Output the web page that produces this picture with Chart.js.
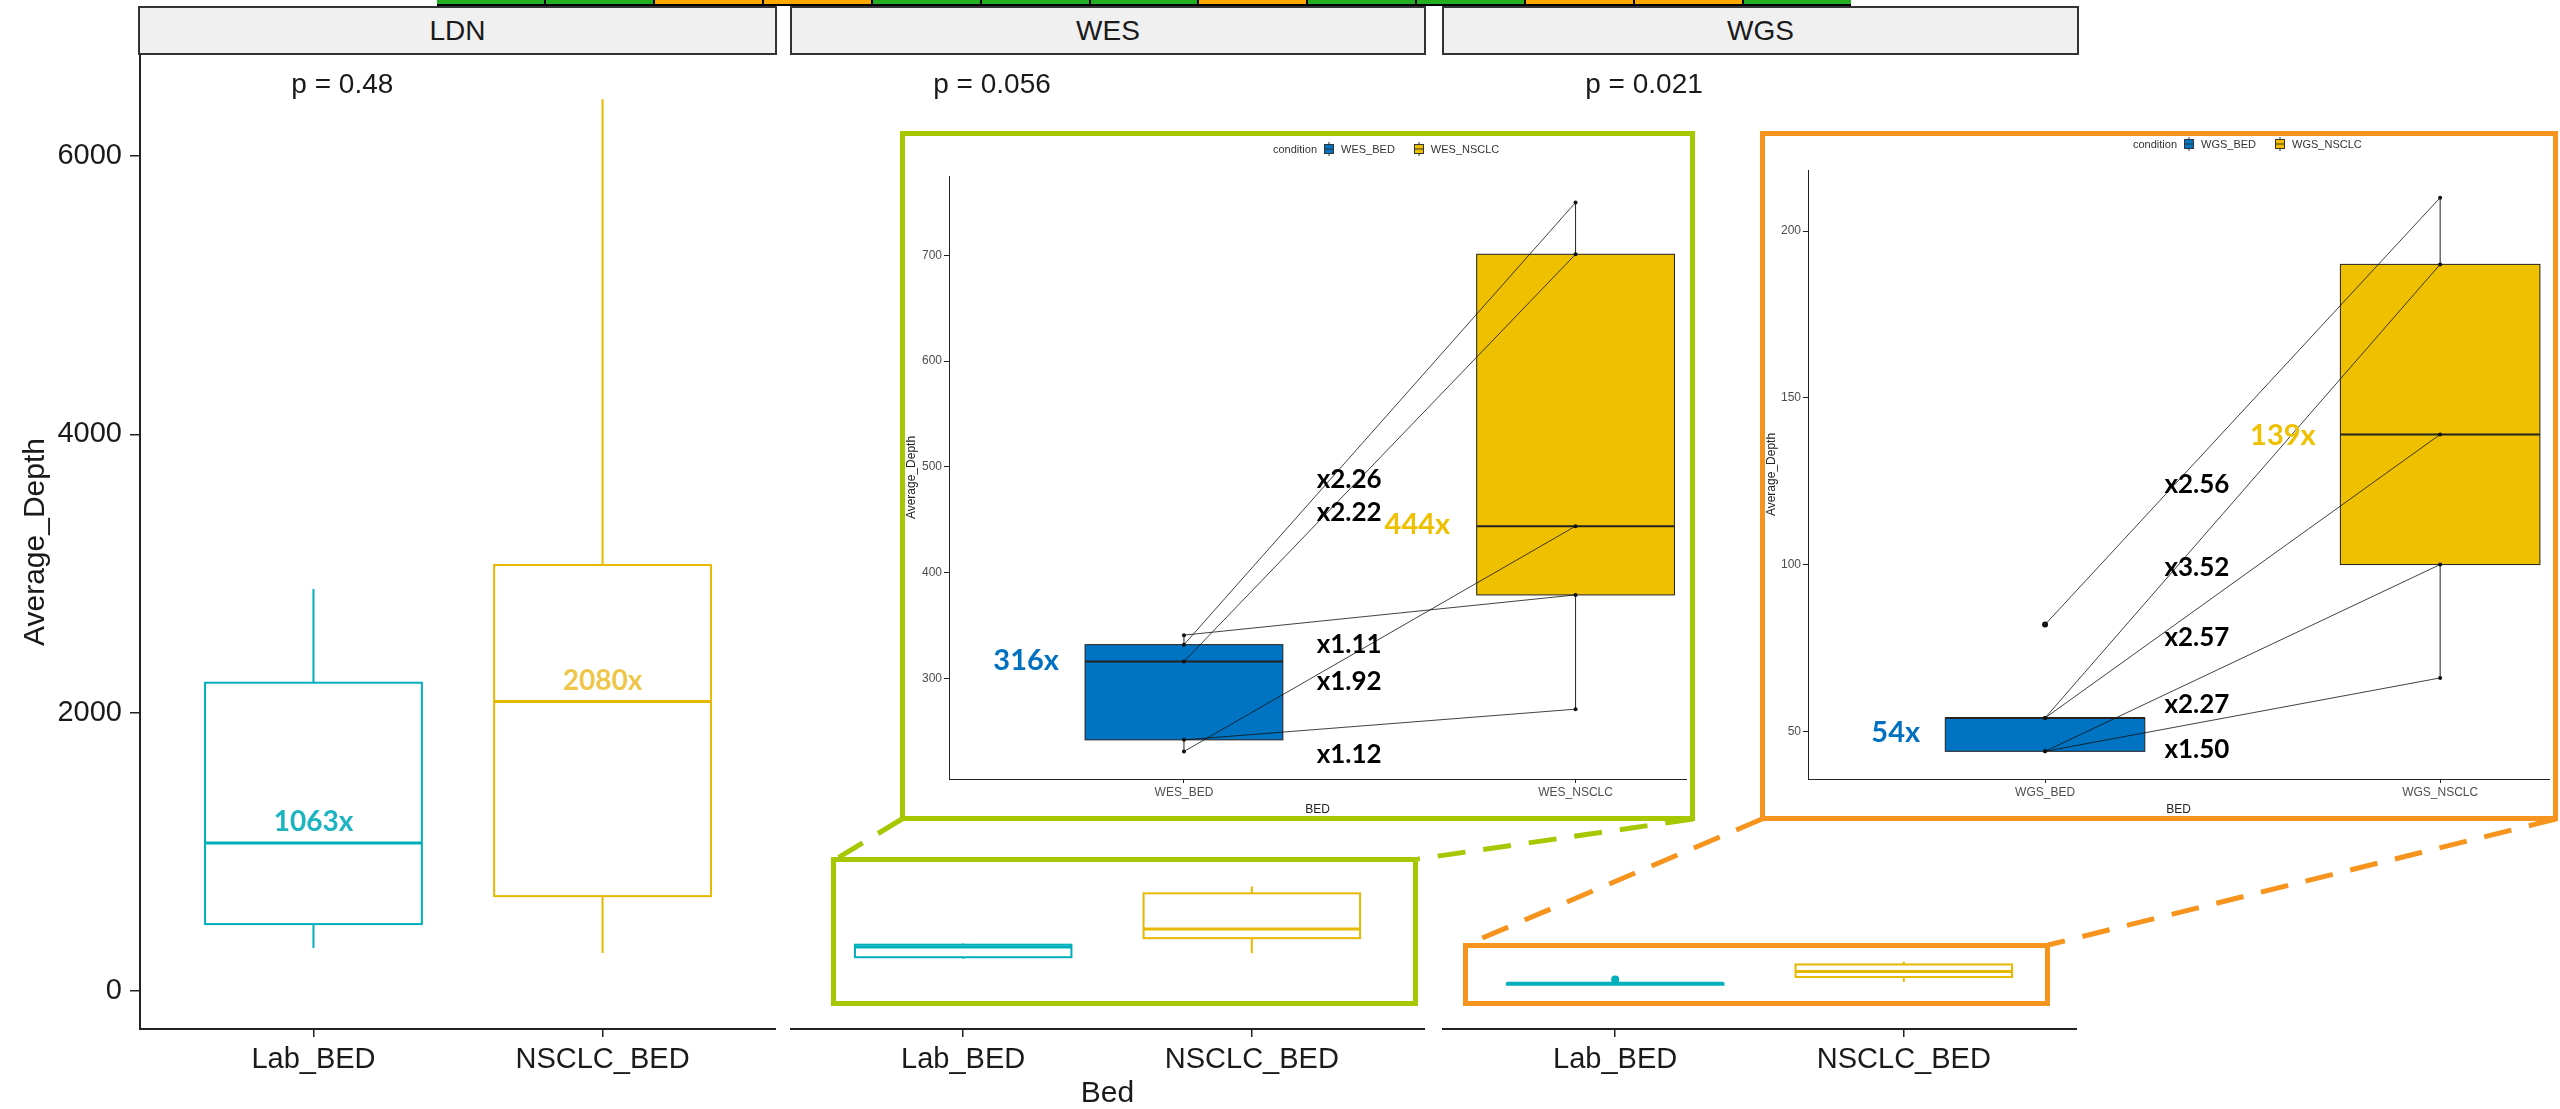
<!DOCTYPE html>
<html>
<head>
<meta charset="utf-8">
<script src="https://cdn.jsdelivr.net/npm/chart.js@4.4.1/dist/chart.umd.min.js"></script>
<style>
  body { margin: 0; background: #fff; }
  #fig { position: relative; width: 2560px; height: 1109px; overflow: hidden; background: #fff; font-family: 'Liberation Sans', Arial, sans-serif; }
  #fig canvas { position: absolute; }
  .strip { position: absolute; top: 6px; height: 49px; box-sizing: border-box; border: 2px solid #333; background: #f0f0f0;
           text-align: center; line-height: 45px; font-size: 28px; color: #1a1a1a; }
  .frame { position: absolute; box-sizing: border-box; border: 5px solid; background: transparent; }
  .frame.green { border-color: #a5c800; }
  .frame.orange { border-color: #f7941d; }
  .frame.inset { background: #fff; }
  .legend { position: absolute; display: flex; align-items: center; height: 14px; font-size: 11px; color: #333; }
  .legend svg { margin: 0 7px 0 7px; }
  #band { position: absolute; left: 437px; top: 0; height: 6px; width: 1414px; background: #000; display: flex; gap: 2px; }
  #band div { flex: 1; height: 4px; }
</style>
</head>
<body>
<div id="fig">
  <div id="band"></div>

  <div class="strip" style="left:138px;width:639px">LDN</div>
  <div class="strip" style="left:790px;width:636px">WES</div>
  <div class="strip" style="left:1442px;width:637px">WGS</div>

  <canvas id="ldn" width="776" height="1054" style="left:0;top:55px"></canvas>
  <canvas id="wes" width="635" height="1054" style="left:790px;top:55px"></canvas>
  <canvas id="wgs" width="635" height="1054" style="left:1442px;top:55px"></canvas>

  <div class="frame green" style="left:831px;top:857px;width:587px;height:149px"></div>
  <div class="frame orange" style="left:1463px;top:943px;width:587px;height:63px"></div>

  <svg width="2560" height="1109" style="position:absolute;left:0;top:0">
    <g stroke-width="5" stroke-dasharray="28 18" fill="none">
      <line x1="902" y1="819" x2="836" y2="859" stroke="#a5c800"/>
      <line x1="1693" y1="819" x2="1418" y2="859" stroke="#a5c800"/>
      <line x1="1762" y1="819" x2="1466" y2="945" stroke="#f7941d"/>
      <line x1="2556" y1="819" x2="2048" y2="945" stroke="#f7941d"/>
    </g>
  </svg>

  <div class="frame green inset" style="left:900px;top:131px;width:795px;height:690px"></div>
  <div class="frame orange inset" style="left:1760px;top:131px;width:798px;height:690px"></div>

  <canvas id="wesZoom" width="785" height="680" style="left:905px;top:136px"></canvas>
  <canvas id="wgsZoom" width="788" height="680" style="left:1765px;top:136px"></canvas>

  <div class="legend" id="wesLegend" style="left:1273px;top:142px"></div>
  <div class="legend" id="wgsLegend" style="left:2133px;top:137px"></div>
</div>

<script>
// ---- data ----
const facetNames = ['LDN', 'WES', 'WGS'];
const bedLabels = ['Lab_BED', 'NSCLC_BED'];
const pValues = ['0.48', '0.056', '0.021'];

// LDN: min, q1, median, q3, max
const ldnLab = [308, 480, 1063, 2215, 2889];
const ldnNsclc = [272, 681, 2080, 3061, 6409];

// paired samples (same sample on both BEDs)
const wesBed = [332, 316, 341, 231, 242];
const wesNsclc = [750, 701, 379, 444, 271];
const wgsBed = [82, 54, 54, 44, 44];
const wgsNsclc = [210, 190, 139, 100, 66];

const mainTicks = [0, 2000, 4000, 6000];
const wesTicks = [300, 400, 500, 600, 700];
const wgsTicks = [50, 100, 150, 200];
const zoomCats = {
  wes: ['WES_BED', 'WES_NSCLC'],
  wgs: ['WGS_BED', 'WGS_NSCLC']
};

// where the fold-change labels sit (y in data units, top to bottom)
const wesRatioY = [488, 457, 332, 297, 228];
const wgsRatioY = [124, 99, 78, 58, 44.5];

const bandColors = ['g', 'g', 'o', 'o', 'g', 'g', 'g', 'o', 'g', 'g', 'o', 'o', 'g'];

// ---- styling ----
const FONT = "'Liberation Sans', Arial, sans-serif";
const BOLD = "Lato, 'Open Sans', sans-serif";
const TEAL = '#00afbb', GOLD = '#e7b800';
const BLUE = '#0073c2', YELLOW = '#efc000';
const AXIS = '#222', TEXT = '#1a1a1a';

// ---- stats helpers ----
function quantile(sorted, p) {
  const h = (sorted.length - 1) * p;
  const lo = Math.floor(h);
  const hi = Math.min(lo + 1, sorted.length - 1);
  return sorted[lo] + (h - lo) * (sorted[hi] - sorted[lo]);
}

function boxStats(values) {
  const s = [...values].sort((a, b) => a - b);
  const q1 = quantile(s, 0.25), med = quantile(s, 0.5), q3 = quantile(s, 0.75);
  const iqr = q3 - q1;
  const inside = s.filter(v => v >= q1 - 1.5 * iqr && v <= q3 + 1.5 * iqr);
  return { min: inside[0], q1, med, q3, max: inside[inside.length - 1], out: s.filter(v => !inside.includes(v)) };
}

function fromSummary(a) {
  return { min: a[0], q1: a[1], med: a[2], q3: a[3], max: a[4], out: [] };
}

// keep chart area fixed: no room reserved for overhanging tick labels
function fixWidth(w) {
  return s => { s.width = w; s.paddingTop = 0; s.paddingBottom = 0; };
}
function fixHeight(h) {
  return s => { s.height = h; s.paddingLeft = 0; s.paddingRight = 0; };
}

// ---- plugins ----
function boxLayer(items, st) {
  return {
    id: 'boxLayer',
    beforeDatasetsDraw(chart) {
      const { ctx, scales: { x, y } } = chart;
      items.forEach(b => {
        const cx = x.getPixelForValue(b.x);
        const half = (x.getPixelForValue(b.x + st.width / 2) - x.getPixelForValue(b.x - st.width / 2)) / 2;
        const top = y.getPixelForValue(b.s.q3), bot = y.getPixelForValue(b.s.q1);
        ctx.save();
        ctx.strokeStyle = b.stroke;
        ctx.lineWidth = st.lineWidth;
        ctx.beginPath();
        ctx.moveTo(cx, y.getPixelForValue(b.s.max)); ctx.lineTo(cx, top);
        ctx.moveTo(cx, bot); ctx.lineTo(cx, y.getPixelForValue(b.s.min));
        ctx.stroke();
        if (b.fill) {
          ctx.fillStyle = b.fill;
          ctx.fillRect(cx - half, top, half * 2, bot - top);
        }
        ctx.strokeRect(cx - half, top, half * 2, bot - top);
        ctx.lineWidth = st.medianWidth;
        ctx.beginPath();
        const my = y.getPixelForValue(b.s.med);
        ctx.moveTo(cx - half, my); ctx.lineTo(cx + half, my);
        ctx.stroke();
        ctx.fillStyle = b.outColor || b.stroke;
        b.s.out.forEach(v => {
          ctx.beginPath();
          ctx.arc(cx, y.getPixelForValue(v), st.outRadius, 0, Math.PI * 2);
          ctx.fill();
        });
        ctx.restore();
      });
    }
  };
}

function noteLayer(notes) {
  return {
    id: 'noteLayer',
    afterDatasetsDraw(chart) {
      const { ctx, scales: { x, y } } = chart;
      notes.forEach(n => {
        ctx.save();
        ctx.font = n.font;
        ctx.fillStyle = n.color;
        ctx.textAlign = n.align || 'center';
        ctx.textBaseline = 'middle';
        ctx.fillText(n.text, x.getPixelForValue(n.x), y.getPixelForValue(n.y) + (n.dy || 0));
        ctx.restore();
      });
    }
  };
}

// ---- facet panels ----
function facetChart(id, showY, showTitle, boxes, notes) {
  return new Chart(document.getElementById(id), {
    type: 'scatter',
    data: { datasets: [] },
    options: {
      responsive: false,
      animation: false,
      devicePixelRatio: 1,
      layout: { padding: 0 },
      plugins: { legend: { display: false }, tooltip: { enabled: false } },
      scales: {
        x: {
          type: 'linear', min: 0.4, max: 2.6,
          afterBuildTicks: s => { s.ticks = [1, 2].map(v => ({ value: v })); },
          afterFit: fixHeight(80),
          ticks: { autoSkip: false, maxRotation: 0, padding: 6, color: TEXT,
                   font: { family: FONT, size: 29 }, callback: v => bedLabels[v - 1] },
          grid: { drawOnChartArea: false, tickLength: 8, color: AXIS, lineWidth: 1.5 },
          border: { color: AXIS, width: 2 },
          title: { display: showTitle, text: 'Bed', color: TEXT, padding: 0,
                   font: { family: FONT, size: 30, lineHeight: 1 } }
        },
        y: {
          display: showY,
          min: -274, max: 6727,
          afterBuildTicks: s => { s.ticks = mainTicks.map(v => ({ value: v })); },
          afterFit: fixWidth(showY ? 140 : 0),
          ticks: { autoSkip: false, padding: 8, color: TEXT, font: { family: FONT, size: 29 },
                   callback: v => String(v) },
          grid: { drawOnChartArea: false, tickLength: 10, color: AXIS, lineWidth: 1.5 },
          border: { color: AXIS, width: 2 },
          title: { display: true, text: 'Average_Depth', color: TEXT, padding: { top: 21, bottom: 0 },
                   font: { family: FONT, size: 30, lineHeight: 1 } }
        }
      }
    },
    plugins: [boxLayer(boxes, { width: 0.75, lineWidth: 2, medianWidth: 3, outRadius: 4 }), noteLayer(notes)]
  });
}

const pNote = i => ({ x: 1.1, y: 6512, text: 'p = ' + pValues[i], color: TEXT, font: '28px ' + FONT });

const ldnStats = [fromSummary(ldnLab), fromSummary(ldnNsclc)];
facetChart('ldn', true, false,
  [{ x: 1, s: ldnStats[0], stroke: TEAL }, { x: 2, s: ldnStats[1], stroke: GOLD }],
  [pNote(0),
   { x: 1, y: ldnStats[0].med, dy: -21, text: ldnStats[0].med + 'x', color: '#1bb4c0', font: 'bold 28px ' + BOLD },
   { x: 2, y: ldnStats[1].med, dy: -21, text: ldnStats[1].med + 'x', color: '#efc54a', font: 'bold 28px ' + BOLD }]);

const wesStats = [boxStats(wesBed), boxStats(wesNsclc)];
const wgsStats = [boxStats(wgsBed), boxStats(wgsNsclc)];

facetChart('wes', false, true,
  [{ x: 1, s: wesStats[0], stroke: TEAL }, { x: 2, s: wesStats[1], stroke: GOLD }],
  [pNote(1)]);
facetChart('wgs', false, false,
  [{ x: 1, s: wgsStats[0], stroke: TEAL }, { x: 2, s: wgsStats[1], stroke: GOLD }],
  [pNote(2)]);

// ---- zoomed paired panels ----
function pairLines(bed, nsclc) {
  return bed.map((b, i) => ({
    type: 'line',
    data: [{ x: 1, y: b }, { x: 2, y: nsclc[i] }],
    borderColor: '#111', borderWidth: 0.8,
    pointRadius: 2, pointBackgroundColor: '#111', pointBorderWidth: 0,
    showLine: true
  }));
}

function zoomChart(id, cfg) {
  const stats = [boxStats(cfg.bed), boxStats(cfg.nsclc)];
  const notes = cfg.bed.map((b, i) => ({
    x: cfg.ratioX, y: cfg.ratioY[i], align: 'left',
    text: 'x' + (cfg.nsclc[i] / b).toFixed(2), color: '#000', font: 'bold 26px ' + BOLD
  }));
  notes.push({ x: cfg.medX[0], y: cfg.medY[0], text: Math.round(stats[0].med) + 'x', color: '#0070c0', font: 'bold 29px ' + BOLD });
  notes.push({ x: cfg.medX[1], y: cfg.medY[1], text: Math.round(stats[1].med) + 'x', color: YELLOW, font: 'bold 29px ' + BOLD });

  return new Chart(document.getElementById(id), {
    type: 'scatter',
    data: { datasets: pairLines(cfg.bed, cfg.nsclc) },
    options: {
      responsive: false,
      animation: false,
      devicePixelRatio: 1,
      layout: { padding: { top: cfg.top, left: 0, right: 0, bottom: 0 } },
      plugins: { legend: { display: false }, tooltip: { enabled: false } },
      scales: {
        x: {
          type: 'linear', min: 0.4, max: cfg.xMax,
          afterBuildTicks: s => { s.ticks = [1, 2].map(v => ({ value: v })); },
          afterFit: fixHeight(cfg.xHeight),
          ticks: { autoSkip: false, maxRotation: 0, padding: 2, color: '#4d4d4d',
                   font: { family: FONT, size: 12 }, callback: v => cfg.cats[v - 1] },
          grid: { drawOnChartArea: false, tickLength: 4, color: '#222', lineWidth: 1 },
          border: { color: '#222', width: 1 },
          title: { display: true, text: 'BED', color: '#222', padding: { top: cfg.titlePad, bottom: 0 },
                   font: { family: FONT, size: 12, lineHeight: 1 } }
        },
        y: {
          min: cfg.yMin, max: cfg.yMax,
          afterBuildTicks: s => { s.ticks = cfg.ticks.map(v => ({ value: v })); },
          afterFit: fixWidth(cfg.yWidth),
          ticks: { autoSkip: false, padding: 2, color: '#4d4d4d', font: { family: FONT, size: 12 },
                   callback: v => String(v) },
          grid: { drawOnChartArea: false, tickLength: 5, color: '#222', lineWidth: 1 },
          border: { color: '#222', width: 1 },
          title: { display: true, text: 'Average_Depth', color: '#222', padding: { top: 1, bottom: 0 },
                   font: { family: FONT, size: 12, lineHeight: 1 } }
        }
      }
    },
    plugins: [
      boxLayer([{ x: 1, s: stats[0], stroke: '#222', fill: BLUE, outColor: '#111' },
                { x: 2, s: stats[1], stroke: '#222', fill: YELLOW, outColor: '#111' }],
               { width: 0.505, lineWidth: 1, medianWidth: 2, outRadius: 3 }),
      noteLayer(notes)
    ]
  });
}

zoomChart('wesZoom', {
  bed: wesBed, nsclc: wesNsclc, cats: zoomCats.wes, ticks: wesTicks,
  yMin: 205, yMax: 775, xMax: 2.282,
  top: 40, yWidth: 44, xHeight: 37, titlePad: 3,
  ratioX: 1.339, ratioY: wesRatioY, medX: [0.597, 1.596], medY: [317, 445]
});

zoomChart('wgsZoom', {
  bed: wgsBed, nsclc: wgsNsclc, cats: zoomCats.wgs, ticks: wgsTicks,
  yMin: 35.7, yMax: 218.3, xMax: 2.2755,
  top: 34, yWidth: 43, xHeight: 37, titlePad: 3,
  ratioX: 1.302, ratioY: wgsRatioY, medX: [0.622, 1.602], medY: [49.6, 138.8]
});

// ---- legends of the zoomed panels ----
function glyph(fill) {
  return '<svg width="10" height="14"><line x1="5" y1="0" x2="5" y2="14" stroke="#333"/>' +
    '<rect x="0.5" y="2.5" width="9" height="9" fill="' + fill + '" stroke="#333"/>' +
    '<line x1="0.5" y1="7" x2="9.5" y2="7" stroke="#333"/></svg>';
}
function legend(el, cats) {
  document.getElementById(el).innerHTML =
    '<span>condition</span>' + glyph(BLUE) + '<span>' + cats[0] + '</span>' +
    '<span style="width:12px"></span>' + glyph(YELLOW) + '<span>' + cats[1] + '</span>';
}
legend('wesLegend', zoomCats.wes);
legend('wgsLegend', zoomCats.wgs);

// colour band along the top edge
const band = document.getElementById('band');
bandColors.forEach(c => {
  const d = document.createElement('div');
  d.style.background = c === 'g' ? '#22b022' : '#ffa800';
  band.appendChild(d);
});
</script>
</body>
</html>
